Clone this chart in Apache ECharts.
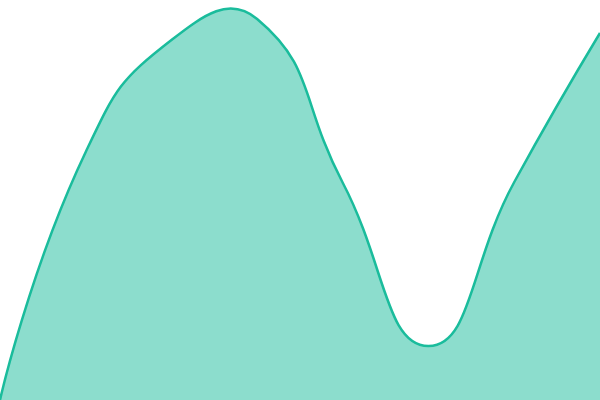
<!DOCTYPE html>
<html>
<head>
<meta charset="utf-8">
<script src="https://cdn.jsdelivr.net/npm/echarts@6/dist/echarts.min.js"></script>
<style>
  html, body { margin: 0; padding: 0; background: #fff; }
  #main { width: 600px; height: 400px; }
</style>
</head>
<body>
<div id="main"></div>
<script>
// 类目与数值
var categories = ['1', '2', '3', '4', '5', '6', '7', '8'];
var values = [0, 248, 360, 381, 217, 54, 218, 367];

// 平滑曲线（按线段长度比例取控制点）
function smoothPath(pts, smooth) {
  var d = 'M' + pts[0][0] + ' ' + pts[0][1];
  var cp0 = pts[0];
  for (var i = 1; i < pts.length; i++) {
    var p = pts[i], prev = pts[i - 1], next = pts[i + 1];
    var cp1, nextCp0;
    if (!next) {
      cp1 = p;
      nextCp0 = p;
    } else {
      var vx = next[0] - prev[0], vy = next[1] - prev[1];
      var lenPrev = Math.hypot(p[0] - prev[0], p[1] - prev[1]);
      var lenNext = Math.hypot(next[0] - p[0], next[1] - p[1]);
      var ratio = lenNext / (lenNext + lenPrev);
      nextCp0 = [p[0] + vx * smooth * ratio, p[1] + vy * smooth * ratio];
      cp1 = [p[0] - vx * smooth * (1 - ratio), p[1] - vy * smooth * (1 - ratio)];
    }
    d += ' C' + cp0[0] + ' ' + cp0[1] + ' ' + cp1[0] + ' ' + cp1[1] + ' ' + p[0] + ' ' + p[1];
    cp0 = nextCp0;
  }
  return d;
}

function chart() {
  var myChart = echarts.init(document.getElementById('main'));
  window.addEventListener('resize', () => myChart.resize(), false);
  var option = {
    animation: false,
    grid: { left: 0, right: 0, top: 0, bottom: 0 },
    xAxis: { type: 'category', data: categories, boundaryGap: false, show: false },
    yAxis: { type: 'value', min: 0, max: 400, show: false },
    series: [
      {
        type: 'custom',
        data: values.map((v, i) => [i, v]),
        renderItem: function (params, api) {
          if (params.dataIndex !== 0) return;
          var pts = values.map((v, i) => api.coord([i, v]));
          var base = api.coord([0, 0])[1];
          var line = smoothPath(pts, 0.5);
          var last = pts[pts.length - 1];
          var area = line + ' L' + last[0] + ' ' + base + ' L' + pts[0][0] + ' ' + base + ' Z';
          return {
            type: 'group',
            children: [
              { type: 'path', shape: { pathData: area }, style: { fill: 'rgba(26,188,156,0.5)', stroke: null } },
              { type: 'path', shape: { pathData: line }, style: { fill: null, stroke: '#1abc9c', lineWidth: 2.5 } }
            ]
          };
        }
      }
    ]
  };
  myChart.setOption(option);
}

window.onload = function() {
  chart();
}
</script>
</body>
</html>
